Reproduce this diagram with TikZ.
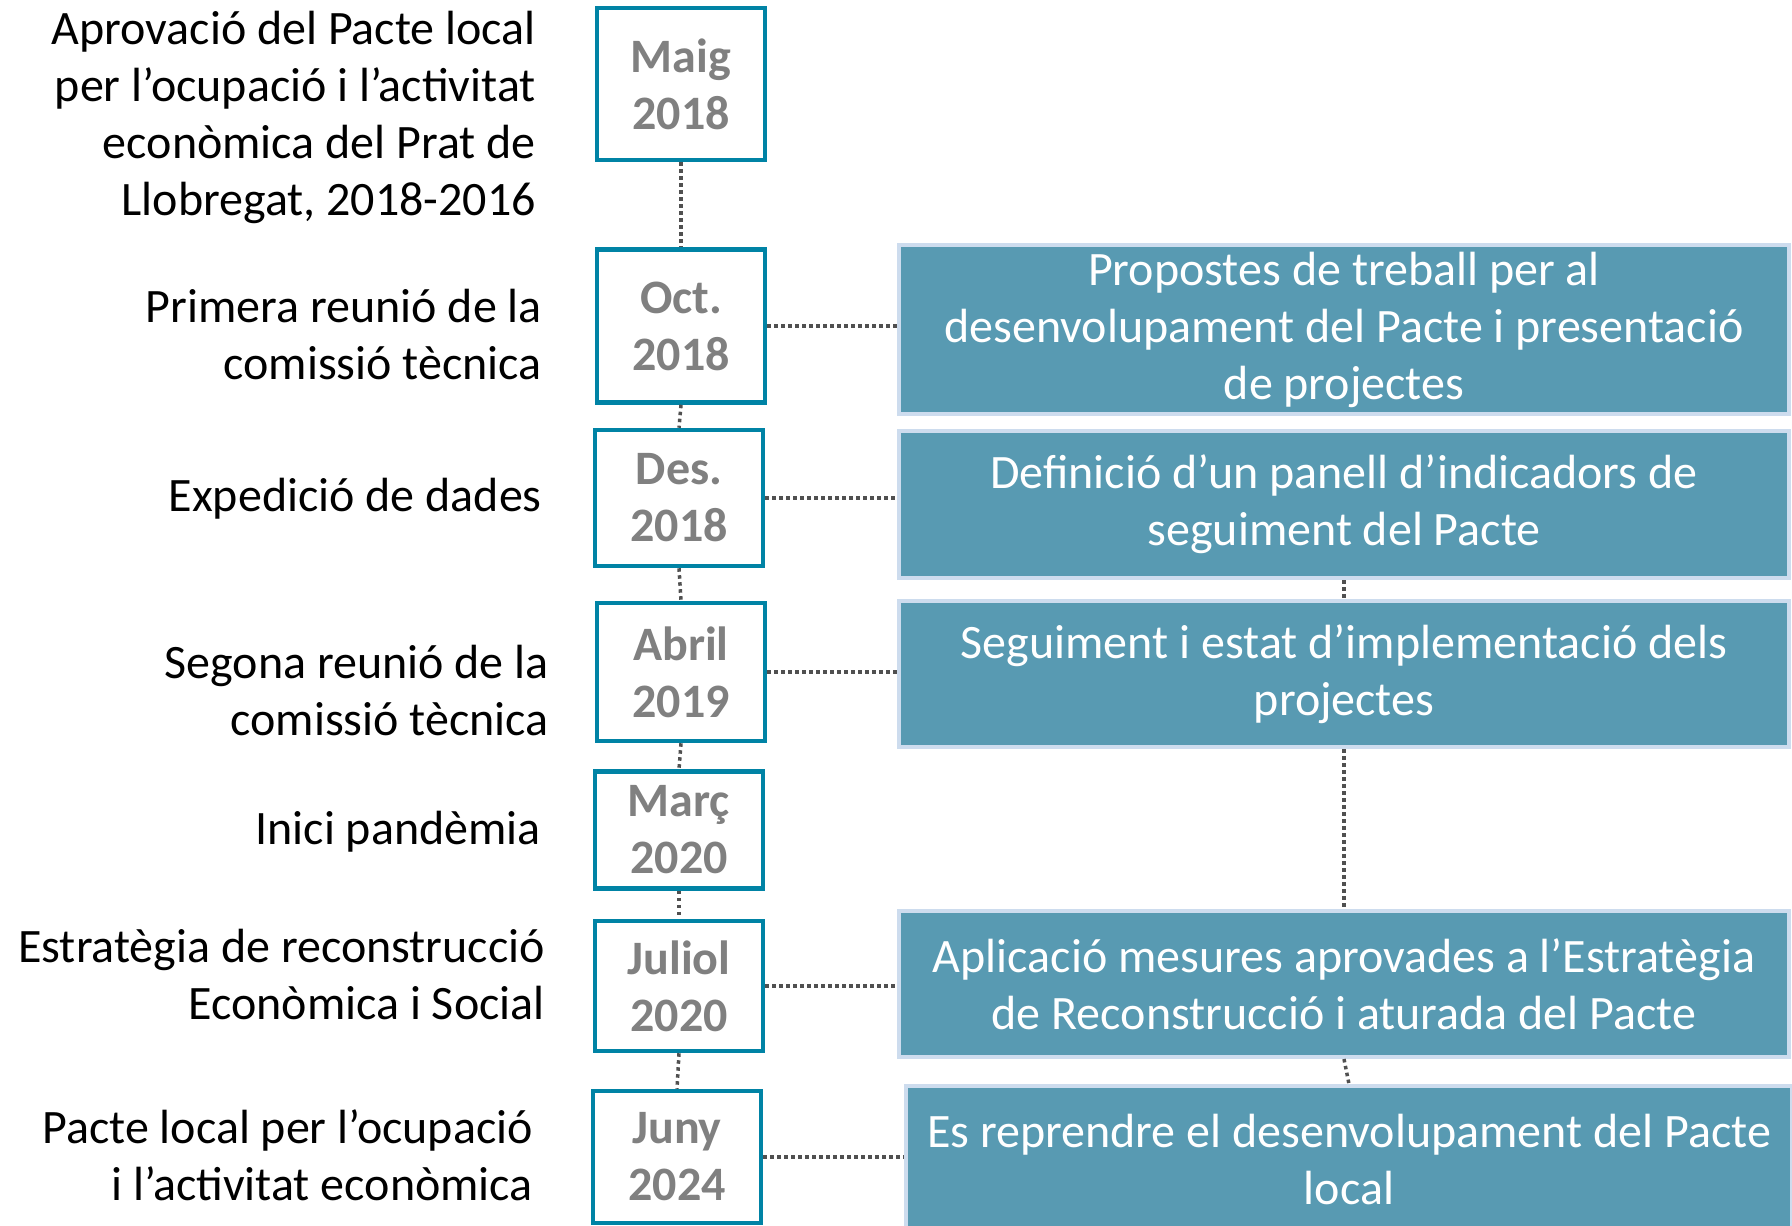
\documentclass[tikz,border=0pt]{standalone}
\usepackage{fontspec}
\setmainfont{Carlito}
\definecolor{datebd}{RGB}{0,131,165}
\definecolor{dategray}{RGB}{128,128,128}
\definecolor{bluefill}{RGB}{88,154,178}
\definecolor{blueedge}{RGB}{205,220,238}
\definecolor{dotc}{RGB}{80,80,80}
\begin{document}
\begin{tikzpicture}[x=1pt,y=-1pt,
  datebox/.style={draw=datebd, line width=4.5pt, fill=white, minimum width=168pt, inner sep=0pt,
    text=dategray, font=\fontsize{48}{57}\selectfont\bfseries, align=center},
  bluebox/.style={draw=blueedge, line width=4pt, fill=bluefill, minimum width=890pt, inner sep=0pt,
    text=white, font=\fontsize{48}{57}\selectfont, align=center},
  lefttext/.style={anchor=east, align=right, font=\fontsize{48}{57}\selectfont, inner sep=0pt},
  conn/.style={draw=dotc, line width=3.5pt, dash pattern=on 3.5pt off 3.5pt}
]
\useasboundingbox (0,0) rectangle (1792,1226);
\clip (0,0) rectangle (1792,1226);

% date boxes
\node[datebox, minimum height=152pt] (d1) at (681,84) {Maig\\2018};
\node[datebox, minimum height=153pt] (d2) at (681,326) {Oct.\\2018};
\node[datebox, minimum height=136pt] (d3) at (679,498) {Des.\\2018};
\node[datebox, minimum height=138pt] (d4) at (681,672) {Abril\\2019};
\node[datebox, minimum height=117pt] (d5) at (679,830) {Març\\2020};
\node[datebox, minimum height=130pt] (d6) at (679,986) {Juliol\\2020};
\node[datebox, minimum height=132pt] (d7) at (677,1157) {Juny\\2024};

% left texts
\node[lefttext] (t1) at (536,117) {Aprovació del Pacte local\\per l’ocupació i l’activitat\\econòmica del Prat de\\Llobregat, 2018-2016};
\node[lefttext] (t2) at (542,335) {Primera reunió de la\\comissió tècnica};
\node[lefttext] (t3) at (542,499) {Expedició de dades};
\node[lefttext] (t4) at (549,691) {Segona reunió de la\\comissió tècnica};
\node[lefttext] (t5) at (541,832) {Inici pandèmia};
\node[lefttext] (t6) at (545,975) {Estratègia de reconstrucció\\Econòmica i Social};
\node[lefttext] (t7) at (533,1155) {Pacte local per l’ocupació\\i l’activitat econòmica};

% blue boxes
\node[bluebox, minimum height=169pt] (b1) at (1344,329.5) {Propostes de treball per al\\desenvolupament del Pacte i presentació\\de projectes};
\node[bluebox, minimum height=147pt] (b2) at (1344,504.5) {Definició d’un panell d’indicadors de\\seguiment del Pacte};
\node[bluebox, minimum height=146pt] (b3) at (1344,674) {Seguiment i estat d’implementació dels\\projectes};
\node[bluebox, minimum height=146pt] (b4) at (1344,984) {Aplicació mesures aprovades a l’Estratègia\\de Reconstrucció i aturada del Pacte};
\node[bluebox, minimum height=154pt, minimum width=886pt] (b5) at (1349,1163) {};
\node[text=white, font=\fontsize{48}{57}\selectfont, align=center, inner sep=0pt] (b5t) at (1349,1159) {Es reprendre el desenvolupament del Pacte\\local};

% vertical connectors (timeline)
\draw[conn] (d1.south) -- (d2.north);
\draw[conn] (d2.south) -- (d3.north);
\draw[conn] (d3.south) -- (d4.north);
\draw[conn] (d4.south) -- (d5.north);
\draw[conn] (d5.south) -- (d6.north);
\draw[conn] (d6.south) -- (d7.north);

% horizontal connectors
\draw[conn] (d2.east) -- (d2.east -| b1.west);
\draw[conn] (d3.east) -- (d3.east -| b2.west);
\draw[conn] (d4.east) -- (d4.east -| b3.west);
\draw[conn] (d6.east) -- (d6.east -| b4.west);
\draw[conn] (d7.east) -- (d7.east -| b5.west);

% vertical connectors between blue boxes
\draw[conn] (b2.south) -- (b3.north);
\draw[conn] (b3.south) -- (b4.north);
\draw[conn] (b4.south) -- (b5.north);
\end{tikzpicture}
\end{document}
